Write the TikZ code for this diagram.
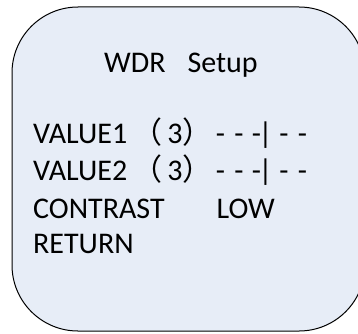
\documentclass[tikz,border=0pt]{standalone}
\usepackage{fontspec}
\setmainfont{Carlito}
\newfontfamily\cjk{Noto Sans CJK SC}
\definecolor{boxfill}{RGB}{231,237,247}
\tikzset{
  panel/.style={draw=black, line width=1pt, fill=boxfill, rounded corners=66pt},
  menutext/.style={anchor=base west, inner sep=0pt, font=\fontsize{30}{36}\selectfont, text=black}
}
\newcommand{\at}[1]{\makebox[0pt][c]{#1}}
\newcommand{\valuebar}{\hspace{20.2pt}\at{\cjk（}\hspace{27.5pt}\at{3}\hspace{23pt}\at{\cjk）}\hspace{22.5pt}\at{-}\hspace{18.5pt}\at{-}\hspace{17.5pt}\at{-}\hspace{9pt}\at{|}\hspace{18.5pt}\at{-}\hspace{18.5pt}\at{-}}
\begin{document}
\begin{tikzpicture}[x=1pt,y=1pt]
\useasboundingbox (0,0) rectangle (358,333);
\draw[panel] (12,2) rectangle (365,326);
\node[menutext] (title) at (104,261) {WDR\hspace{22pt}Setup};
\node[menutext] (v1) at (33,190) {VALUE1\valuebar};
\node[menutext] (v2) at (33,153) {VALUE2\valuebar};
\node[menutext] (con) at (33,115) {CONTRAST\hspace{52pt}LOW};
\node[menutext] (ret) at (33,80) {RETURN};
\end{tikzpicture}
\end{document}
